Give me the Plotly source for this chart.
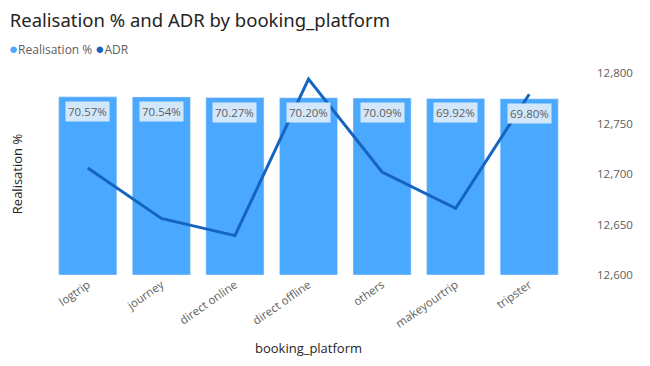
import plotly.graph_objects as go

platforms = ["logtrip", "journey", "direct online", "direct offline", "others", "makeyourtrip", "tripster"]
realisation = [70.57, 70.54, 70.27, 70.20, 70.09, 69.92, 69.80]
adr = [12706, 12656, 12639, 12794, 12702, 12666, 12779]
adr_ticks = [12600, 12650, 12700, 12750, 12800]

BAR = "#4AA8FF"
LINE = "#1565C0"
FONT = "Open Sans"

fig = go.Figure()
fig.add_trace(go.Bar(x=platforms, y=realisation, marker_color=BAR, name="Realisation %",
                     showlegend=False, hoverinfo="skip"))
fig.add_trace(go.Scatter(x=platforms, y=adr, mode="lines", line=dict(color=LINE, width=3),
                         name="ADR", yaxis="y2", showlegend=False))

for p, v in zip(platforms, realisation):
    fig.add_annotation(x=p, y=v, xref="x", yref="y", text=f"{v:.2f}%", showarrow=False,
                       yanchor="top", yshift=-4, font=dict(size=11.5, color="#605E5C", family=FONT),
                       bgcolor="#D3E7FB", borderpad=2)

# legend as text
fig.add_annotation(xref="paper", yref="paper", x=-0.085, y=1.1225, xanchor="left", yanchor="middle",
                   showarrow=False, align="left",
                   text=(f'<span style="color:{BAR};font-size:15px">●</span>Realisation % '
                         f'<span style="color:{LINE};font-size:15px">●</span>ADR'),
                   font=dict(size=12, color="#605E5C", family=FONT))

fig.update_layout(
    width=650, height=366,
    margin=dict(l=51, r=84, t=73, b=89),
    paper_bgcolor="white", plot_bgcolor="white",
    bargap=0.21,
    showlegend=False,
    font=dict(family=FONT, color="#605E5C"),
    title=dict(text="Realisation % and ADR by booking_platform", x=0.015, xanchor="left",
               y=0.945, yanchor="middle", font=dict(size=18.5, color="#252423", family="Noto Sans")),
    xaxis=dict(tickangle=-35, tickfont=dict(size=11.5, color="#605E5C"), showline=False,
               title=dict(text="booking_platform", font=dict(size=13, color="#252423"), standoff=14)),
    yaxis=dict(range=[0, 80], showticklabels=False, showgrid=False, zeroline=False,
               title=dict(text="Realisation %", font=dict(size=13, color="#252423"), standoff=24)),
    yaxis2=dict(overlaying="y", side="right", range=[12600, 12800], tickvals=adr_ticks,
                tickformat=",", showgrid=False, zeroline=False, ticklabelstandoff=30,
                tickfont=dict(size=11.5, color="#605E5C")),
)

fig.write_html("out.html")
